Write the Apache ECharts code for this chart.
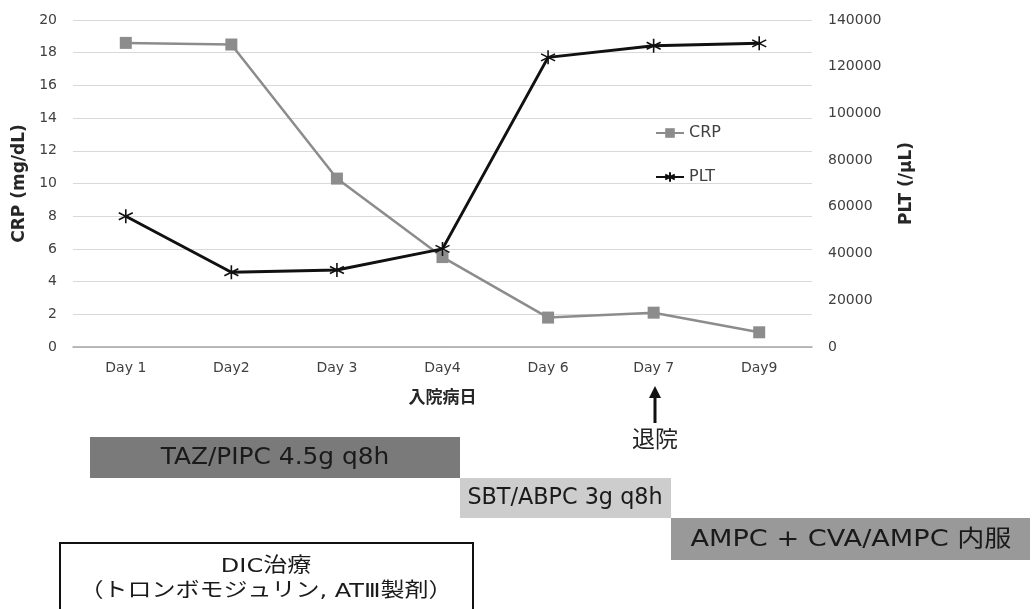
<!DOCTYPE html>
<html><head><meta charset="utf-8">
<script src="https://cdn.jsdelivr.net/npm/echarts@6/dist/echarts.min.js"></script>
<style>html,body{margin:0;padding:0;background:#fff}#c{width:1033px;height:609px}</style>
</head><body><div id="c"></div>
<script>
const categories = ['Day 1','Day2','Day 3','Day4','Day 6','Day 7','Day9'];
const crpValues = [18.6, 18.5, 10.3, 5.5, 1.8, 2.1, 0.9];
const pltValues = [56000, 32000, 33000, 42000, 124000, 129000, 130000];
const crpTicks = {min:0, max:20, interval:2};
const pltTicks = {min:0, max:140000, interval:20000};

const FONT = '"DejaVu Sans", "Noto Sans CJK JP", sans-serif';
const star = 'path://M5 0 L5 10 M0.7 2.5 L9.3 7.5 M0.7 7.5 L9.3 2.5';
const chart = echarts.init(document.getElementById('c'));
function label(x, y, text, size, sx) {
  return {type:'text', x:x, y:y, scaleX:sx || 1,
    style:{text:text, fontSize:size, fill:'#1a1a1a', fontFamily:FONT, align:'center', verticalAlign:'middle'}};
}
chart.setOption({
  animation:false,
  textStyle:{fontFamily:FONT},
  grid:{left:73, right:221, top:20, bottom:262, containLabel:false},
  legend:{
    orient:'vertical', left:650, top:120, itemGap:28, itemWidth:28, itemHeight:12,
    textStyle:{fontSize:16, color:'#404040', fontFamily:FONT},
    data:['CRP','PLT']
  },
  xAxis:{
    type:'category', data:categories, boundaryGap:true,
    axisLine:{lineStyle:{color:'#a6a6a6', width:1.5}}, axisTick:{show:false},
    axisLabel:{fontSize:14, color:'#404040', margin:14},
    name:'入院病日', nameLocation:'middle', nameGap:43,
    nameTextStyle:{fontSize:17, fontWeight:'bold', color:'#262626'}
  },
  yAxis:[
    {type:'value', min:crpTicks.min, max:crpTicks.max, interval:crpTicks.interval,
     axisLine:{show:false}, axisTick:{show:false},
     axisLabel:{fontSize:14, color:'#404040', margin:16},
     splitLine:{lineStyle:{color:'#d9d9d9', width:1}},
     name:'CRP (mg/dL)', nameLocation:'middle', nameRotate:90, nameGap:42,
     nameTextStyle:{fontSize:17, fontWeight:'bold', color:'#262626'}},
    {type:'value', min:pltTicks.min, max:pltTicks.max, interval:pltTicks.interval,
     position:'right',
     axisLine:{show:false}, axisTick:{show:false}, splitLine:{show:false},
     axisLabel:{fontSize:14, color:'#404040', margin:16, formatter:v => String(v)},
     name:'PLT (/μL)', nameLocation:'middle', nameRotate:90, nameGap:86,
     nameTextStyle:{fontSize:17, fontWeight:'bold', color:'#262626'}}
  ],
  series:[
    {name:'CRP', type:'line', yAxisIndex:0, data:crpValues,
     symbol:'rect', symbolSize:12,
     lineStyle:{color:'#8c8c8c', width:2.5},
     itemStyle:{color:'#8c8c8c'}, z:2},
    {name:'PLT', type:'line', yAxisIndex:1, data:pltValues,
     symbol:star, symbolSize:14,
     lineStyle:{color:'#111', width:3},
     itemStyle:{color:'#111', borderColor:'#111', borderWidth:1.6}, z:3}
  ],
  graphic:[
    {type:'line', shape:{x1:655, y1:423, x2:655, y2:396}, style:{stroke:'#111', lineWidth:3}},
    {type:'polygon', shape:{points:[[649,398],[661,398],[655,386]]}, style:{fill:'#111'}},
    {type:'text', x:655, y:441, style:{text:'退院', fontSize:23, fill:'#222', fontFamily:FONT, align:'center', verticalAlign:'middle'}},
    {type:'rect', shape:{x:90, y:437, width:370, height:41}, style:{fill:'#7a7a7a'}},
    label(275, 458, 'TAZ/PIPC 4.5g q8h', 23, 1.08),
    {type:'rect', shape:{x:460, y:478, width:211, height:40}, style:{fill:'#cdcdcd'}},
    label(565, 498, 'SBT/ABPC 3g q8h', 23, 0.97),
    {type:'rect', shape:{x:671, y:518, width:359, height:42}, style:{fill:'#999999'}},
    label(851, 540, 'AMPC + CVA/AMPC 内服', 23, 1.18),
    {type:'rect', shape:{x:60, y:543, width:413, height:80}, style:{fill:'#fff', stroke:'#111', lineWidth:2}},
    label(266, 567, 'DIC治療', 20, 1.2),
    label(266, 592, '（トロンボモジュリン, ATⅢ製剤）', 20, 1.2)
  ]
});
</script></body></html>
